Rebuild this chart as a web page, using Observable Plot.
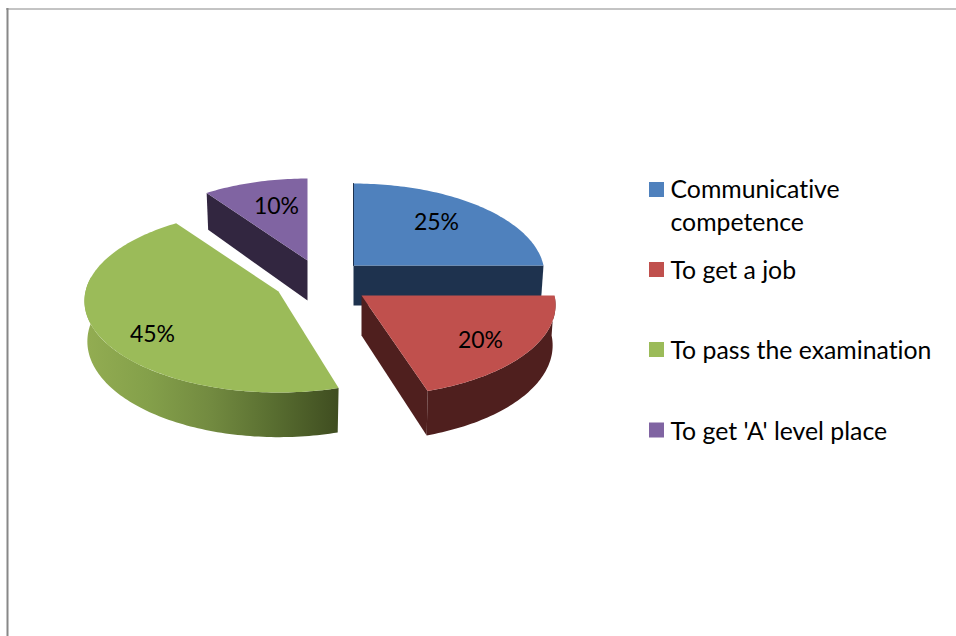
<!DOCTYPE html>
<html>
<head>
<meta charset="utf-8">
<script src="https://cdn.jsdelivr.net/npm/d3@7"></script>
<script src="https://cdn.jsdelivr.net/npm/@observablehq/plot@0.6"></script>
<style>
html,body{margin:0;padding:0;background:#fff;overflow:hidden}
svg{display:block}
svg text{font-variant-ligatures:none}
</style>
</head>
<body>
<div id="chart"></div>
<script>
// Data
const categories = ["Communicative competence", "To get a job", "To pass the examination", "To get 'A' level place"];
const values = [25, 20, 45, 10];
const percentLabels = ["25%", "20%", "45%", "10%"];
const topColors = ["#4f81bd", "#c0504d", "#9bbb59", "#8064a2"];
const wallColors = ["#1e324e", "#4f1f1e", "url(#greenWall)", "#322640"];

// Exploded slice apexes and radii, in chart canvas units
const apexX = [353, 361, 278, 307];
const apexY = [265, 295, 291, 260];
const radiusX = [190, 193, 193, 186];
const labelX = [436, 480, 152, 276];
const labelY = [222, 340, 334, 206];
// Small view-dependent corrections of the slice edges, in radians
const startNudge = [0, 0, 0.03, 0];
const endNudge = [0, 0, 0.015, 0];

// Legend
const legendSwatchY = [189.5, 269.5, 349.5, 430];
const legendLines = [
  ["Communicative", 189.5], ["competence", 222.5], ["To get a job", 270.5],
  ["To pass the examination", 350.5], ["To get 'A' level place", 431.5]
];

// Tilted-disc projection
const depthA = 90.5, persp = 0.104, wallH = 40, bottomShrink = 0.985;

const arcs = d3.pie().sort(null).startAngle(0).endAngle(2 * Math.PI)(values)
  .map((a, i) => ({...a, startAngle: a.startAngle + startNudge[i], endAngle: a.endAngle + endNudge[i]}));

function project(i, t, bottom) {
  const w = 1 + persp * Math.cos(t);
  return {
    x: apexX[i] + radiusX[i] * Math.sin(t) / w * (bottom ? bottomShrink : 1),
    y: apexY[i] - depthA * Math.cos(t) / w + (bottom ? wallH / w : 0)
  };
}
function sweep(i, a, b, bottom) {
  const n = Math.max(2, Math.ceil(Math.abs(b - a) / 0.02));
  return d3.range(n + 1).map(k => project(i, a + (b - a) * k / n, bottom));
}
const apex = (i, bottom) => ({x: apexX[i], y: apexY[i] + (bottom ? wallH : 0)});

function topFace(i) {
  return [apex(i, false), ...sweep(i, arcs[i].startAngle, arcs[i].endAngle, false)];
}
function outerWall(i, a, b) {
  return [...sweep(i, a, b, false), ...sweep(i, b, a, true)];
}
function sideWall(i, t) {
  return [apex(i, false), project(i, t, false), project(i, t, true), apex(i, true)];
}
const poly = (pts, fill) => Plot.line(pts, {x: "x", y: "y", fill, stroke: "none"});

const gradient = () => {
  const ns = "http://www.w3.org/2000/svg";
  const defs = document.createElementNS(ns, "defs");
  const g = document.createElementNS(ns, "linearGradient");
  g.setAttribute("id", "greenWall");
  [[0, "#93ad52"], [0.25, "#84a04a"], [0.5, "#728a40"], [0.75, "#586d30"], [1, "#3f4d20"]].forEach(([o, c]) => {
    const s = document.createElementNS(ns, "stop");
    s.setAttribute("offset", o);
    s.setAttribute("stop-color", c);
    g.appendChild(s);
  });
  defs.appendChild(g);
  return defs;
};

const font = "Lato, 'Open Sans', sans-serif";

const chart = Plot.plot({
  width: 956,
  height: 636,
  margin: 0,
  style: {background: "#fff", fontFamily: font},
  x: {domain: [0, 956], range: [0, 956], axis: null},
  y: {domain: [0, 636], range: [0, 636], axis: null},
  marks: [
    gradient,
    // frame
    Plot.ruleY([8.5], {x1: 6, x2: 956, stroke: "#888888", strokeWidth: 1}),
    Plot.ruleX([7], {y1: 8, y2: 636, stroke: "#888888", strokeWidth: 2}),
    // purple
    poly(sideWall(3, arcs[3].startAngle), wallColors[3]),
    poly(topFace(3), topColors[3]),
    // blue
    poly(sideWall(0, arcs[0].endAngle), wallColors[0]),
    poly(topFace(0), topColors[0]),
    Plot.line([project(0, 0, false), apex(0, false)], {x: "x", y: "y", stroke: wallColors[0], strokeWidth: 1}),
    // green
    poly(outerWall(2, arcs[2].startAngle, 1.55 * Math.PI), wallColors[2]),
    poly(topFace(2), topColors[2]),
    // red
    poly(sideWall(1, arcs[1].endAngle), wallColors[1]),
    poly(outerWall(1, arcs[1].startAngle, arcs[1].endAngle), wallColors[1]),
    poly(topFace(1), topColors[1]),
    // percent labels
    Plot.text(percentLabels, {
      x: (d, i) => labelX[i], y: (d, i) => labelY[i], text: d => d,
      fontSize: 23, fill: "#000", textAnchor: "middle", lineAnchor: "middle"
    }),
    // legend
    Plot.rect(categories, {
      x1: 649, x2: 664,
      y1: (d, i) => legendSwatchY[i] - 7.5, y2: (d, i) => legendSwatchY[i] + 7.5,
      fill: (d, i) => topColors[i]
    }),
    Plot.text(legendLines, {
      x: 670, y: d => d[1], text: d => d[0],
      fontSize: 24.8, fill: "#000", textAnchor: "start", lineAnchor: "middle"
    })
  ]
});
document.getElementById("chart").appendChild(chart);
</script>
</body>
</html>
